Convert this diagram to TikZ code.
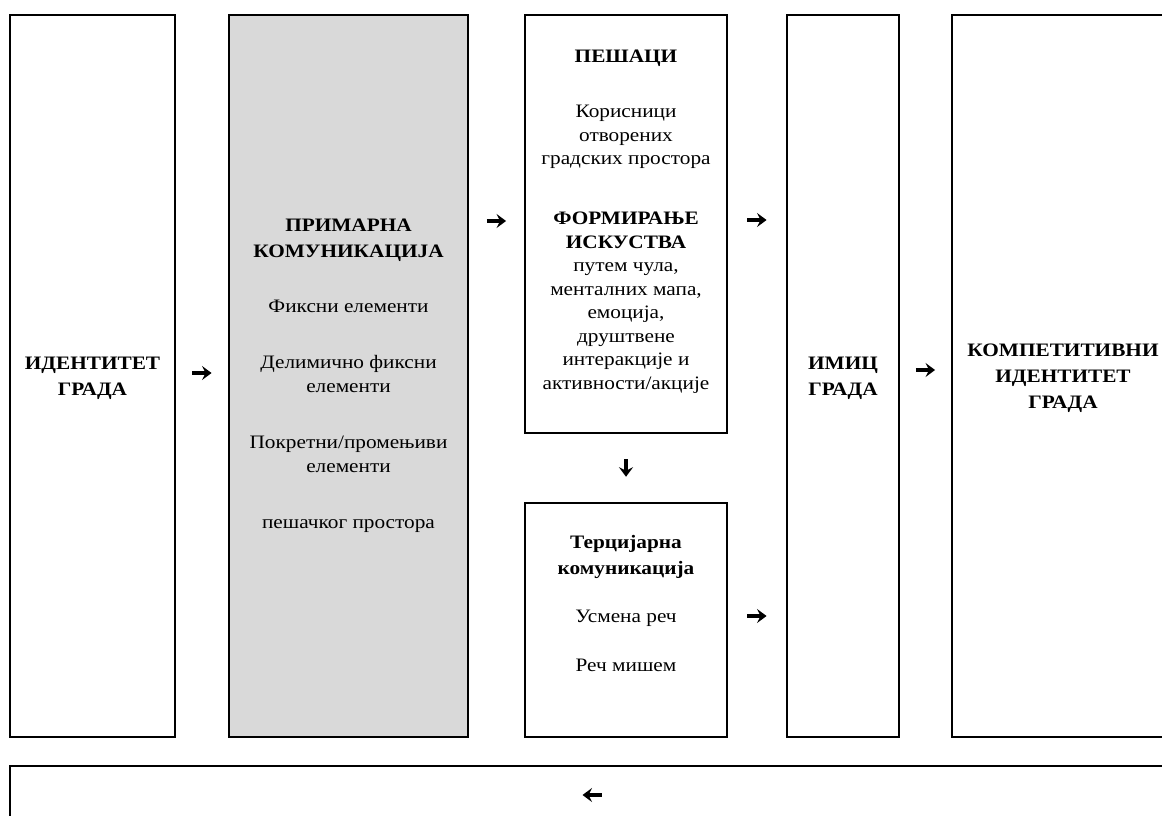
\documentclass[tikz,border=0pt]{standalone}
\usepackage{fontspec}
\setmainfont{Liberation Serif}[FakeStretch=1.12]
\usetikzlibrary{arrows.meta,calc}
\definecolor{panelgray}{HTML}{D9D9D9}
\begin{document}
\begin{tikzpicture}[x=1pt,y=-1pt,
  box/.style={draw=black,line width=1.5pt,inner sep=0pt,fill=white},
  graybox/.style={box,fill=panelgray},
  txt/.style={align=center,inner sep=0pt,anchor=north,
    font=\fontsize{19}{23.5}\selectfont},
  arr/.style={line width=3.5pt,-{Stealth[length=9.5pt,width=14pt,inset=3.5pt]}},
]
\useasboundingbox (0,0) rectangle (1162,815);
\clip (0,0) rectangle (1162,815);
\fill[white] (0,0) rectangle (1162,815);

% frames
\node[box,minimum width=165pt,minimum height=722pt] (ident) at (92.5,376) {};
\node[graybox,minimum width=239pt,minimum height=722pt] (prim) at (348.5,376) {};
\node[box,minimum width=202pt,minimum height=418pt] (ped) at (626,224) {};
\node[box,minimum width=202pt,minimum height=234pt] (tert) at (626,620) {};
\node[box,minimum width=112pt,minimum height=722pt] (image) at (843,376) {};
\node[box,minimum width=222pt,minimum height=722pt] (comp) at (1063,376) {};
\node[box,minimum width=1164pt,minimum height=68pt] (back) at (592,800) {};

% texts
\node[txt] (identT) at (92.5,356.5) {\textbf{ИДЕНТИТЕТ}\\[2.5pt]\textbf{ГРАДА}};
\node[txt] (primT) at (348.5,218.5) {\textbf{ПРИМАРНА}\\[2.5pt]\textbf{КОМУНИКАЦИЈА}\\[32pt]
  Фиксни елементи\\[32pt]
  Делимично фиксни\\[0.5pt]елементи\\[32.5pt]
  Покретни/промењиви\\[1pt]елементи\\[32.5pt]
  пешачког простора};
\node[txt] (pedT) at (626,50) {\textbf{ПЕШАЦИ}\\[31.5pt]
  Корисници\\отворених\\градских простора\\[36.5pt]
  \textbf{ФОРМИРАЊЕ}\\\textbf{ИСКУСТВА}\\путем чула,\\менталних мапа,\\емоција,\\друштвене\\интеракције и\\активности/акције};
\node[txt] (tertT) at (626,535) {\textbf{Терцијарна}\\[2.5pt]\textbf{комуникација}\\[24.5pt]
  Усмена реч\\[25.5pt]Реч мишем};
\node[txt] (imageT) at (843,356.5) {\textbf{ИМИЦ}\\[2.5pt]\textbf{ГРАДА}};
\node[txt] (compT) at (1063,343.5) {\textbf{КОМПЕТИТИВНИ}\\[2.5pt]\textbf{ИДЕНТИТЕТ}\\[2.5pt]\textbf{ГРАДА}};

% flow arrows
\draw[arr,shorten <=16.7pt,shorten >=16.7pt] ([yshift=3pt]ident.east) -- ([yshift=3pt]prim.west);
\draw[arr,shorten <=18.2pt,shorten >=18.2pt] ([yshift=155pt]prim.east) -- ([yshift=3pt]ped.west);
\draw[arr,shorten <=19.7pt,shorten >=19.7pt] ([yshift=4pt]ped.east) -- ([yshift=156pt]image.west);
\draw[arr,shorten <=19.7pt,shorten >=19.7pt] ([yshift=4pt]tert.east) -- ([yshift=-240pt]image.west);
\draw[arr,shorten <=16.2pt,shorten >=16.2pt] ([yshift=6pt]image.east) -- ([yshift=6pt]comp.west);
\draw[arr,shorten <=25.5pt,shorten >=25.5pt] (ped.south) -- (tert.north);
\draw[arr] ([xshift=9.5pt,yshift=5pt]back.center) -- ([xshift=-9.5pt,yshift=5pt]back.center);
\end{tikzpicture}
\end{document}
